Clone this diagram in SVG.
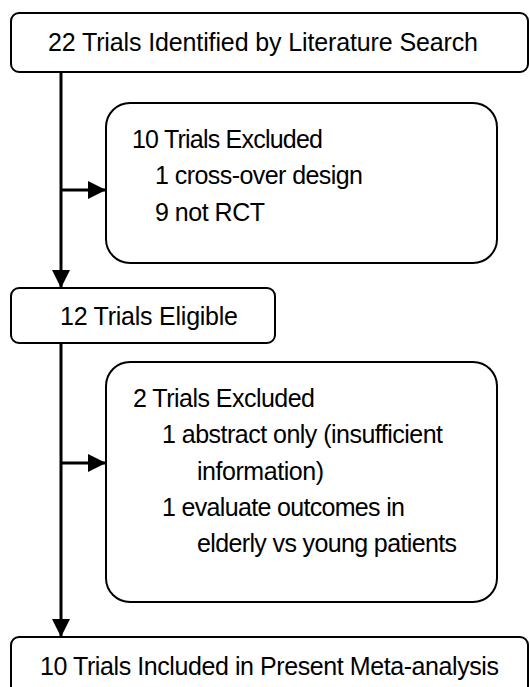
<svg xmlns="http://www.w3.org/2000/svg" width="530" height="687" viewBox="0 0 530 687">
  <style>
    .box { fill: #ffffff; stroke: #000000; stroke-width: 2; }
    .lbl { font-family: "Liberation Sans", Arial, sans-serif; font-size: 25px; fill: #000000; }
    .wire { fill: none; stroke: #000000; stroke-width: 3; }
  </style>
  <defs>
    <marker id="arrow" markerUnits="userSpaceOnUse" markerWidth="18" markerHeight="18" refX="17" refY="9" orient="auto">
      <path d="M0,0 L18,9 L0,18 Z" fill="#000000"/>
    </marker>
  </defs>

  <rect width="530" height="687" fill="#ffffff"/>

  <!-- connectors -->
  <g id="connectors">
    <line class="wire" x1="61" y1="72" x2="61" y2="287" marker-end="url(#arrow)"/>
    <line class="wire" x1="61" y1="190" x2="105" y2="190" marker-end="url(#arrow)"/>
    <line class="wire" x1="61" y1="343" x2="61" y2="636" marker-end="url(#arrow)"/>
    <line class="wire" x1="61" y1="463" x2="105" y2="463" marker-end="url(#arrow)"/>
  </g>

  <g id="identified">
    <rect class="box" x="11" y="13" width="517" height="59" rx="8"/>
    <text class="lbl" x="48" y="51" textLength="430">22 Trials Identified by Literature Search</text>
  </g>

  <g id="excluded-first">
    <rect class="box" x="106" y="103" width="391" height="160" rx="24"/>
    <text class="lbl" x="132" y="148" textLength="191">10 Trials Excluded</text>
    <text class="lbl" x="155" y="184" textLength="208">1 cross-over design</text>
    <text class="lbl" x="155" y="221" textLength="110">9 not RCT</text>
  </g>

  <g id="eligible">
    <rect class="box" x="11" y="288" width="264" height="55" rx="8"/>
    <text class="lbl" x="60" y="325" textLength="178">12 Trials Eligible</text>
  </g>

  <g id="excluded-second">
    <rect class="box" x="106" y="362" width="391" height="240" rx="24"/>
    <text class="lbl" x="133" y="407" textLength="182">2 Trials Excluded</text>
    <text class="lbl" x="162" y="443" textLength="281">1 abstract only (insufficient</text>
    <text class="lbl" x="197" y="480" textLength="127">information)</text>
    <text class="lbl" x="162" y="516" textLength="243">1 evaluate outcomes in</text>
    <text class="lbl" x="197" y="552" textLength="260">elderly vs young patients</text>
  </g>

  <g id="included">
    <rect class="box" x="11" y="637" width="517" height="70" rx="8"/>
    <text class="lbl" x="40" y="675" textLength="459">10 Trials Included in Present Meta-analysis</text>
  </g>
</svg>
